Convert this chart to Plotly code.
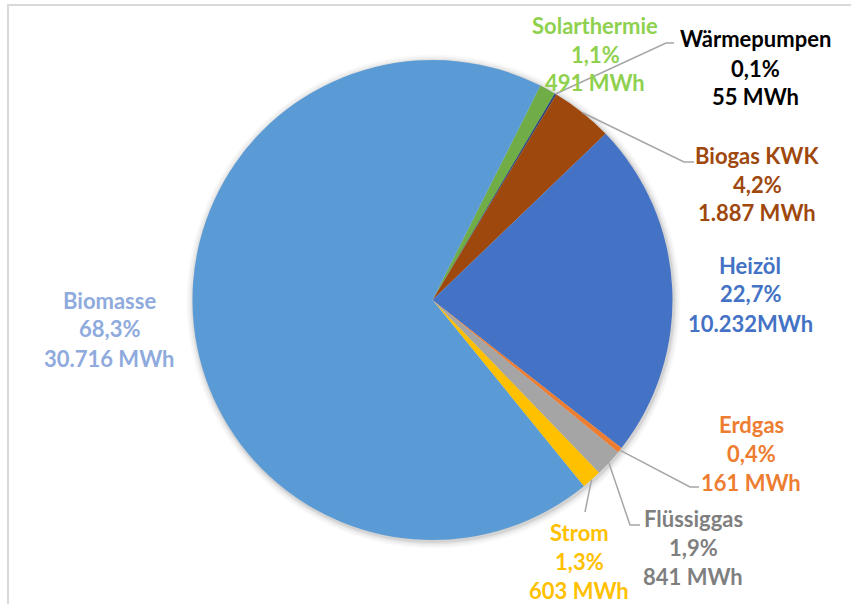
import math
import plotly.graph_objects as go

# Wärmeerzeugung nach Energieträger (MWh), im Uhrzeigersinn
categories = ["Solarthermie", "Wärmepumpen", "Biogas KWK", "Heizöl",
              "Erdgas", "Flüssiggas", "Strom", "Biomasse"]
values_mwh = [491, 55, 1887, 10232, 161, 841, 603, 30716]
slice_colors = ["#70AD47", "#264478", "#9E480E", "#4472C4",
                "#ED7D31", "#A5A5A5", "#FFC000", "#5B9BD5"]
label_colors = ["#8FD14F", "#000000", "#9E480E", "#4472C4",
                "#ED7D31", "#7F7F7F", "#FFC000", "#8FAADC"]
# Heizöl is written without a space before the unit
unit_gap = [" ", " ", " ", "", " ", " ", " ", " "]

W, H = 851, 604
CX, CY, R = 432.5, 300.0, 240.0          # pie centre / radius in px
ROTATION = 26.7                          # first slice starts here (deg, clockwise)

# label block centres (px, first line) and leader-line elbow points (px)
label_pos = [(595, 25), (755, 39), (757, 155), (750, 265),
             (751, 424), (693, 518), (579, 532), (110, 300)]
elbows = [None, [(666, 43), (674, 43)], [(684, 162), (694, 162)], None,
          [(690, 487), (699, 487)], [(630, 525), (640, 525)],
          [(585, 512)], None]
LINE_GAP = 29
FONT_SIZE = 22


def px(x):
    return x / W


def py(y):
    return 1 - y / H


def de_num(v):
    return f"{v:,}".replace(",", ".")


total = sum(values_mwh)

fig = go.Figure()

# soft halo around the pie
for grow, alpha in [(7, 0.025), (5, 0.035), (3, 0.05), (1.5, 0.07)]:
    r = R + grow
    fig.add_trace(go.Pie(
        values=[1], marker=dict(colors=[f"rgba(0,0,0,{alpha})"]),
        textinfo="none", hoverinfo="skip", showlegend=False, sort=False,
        domain=dict(x=[px(CX - r + 1), px(CX + r + 1)],
                    y=[py(CY + r + 1.5), py(CY - r + 1.5)]),
    ))

fig.add_trace(go.Pie(
    labels=categories, values=values_mwh, sort=False, direction="clockwise",
    rotation=ROTATION,
    marker=dict(colors=slice_colors, line=dict(width=0)),
    textinfo="none", hoverinfo="label+value+percent", showlegend=False,
    domain=dict(x=[px(CX - R), px(CX + R)], y=[py(CY + R), py(CY - R)]),
))

annotations = []
shapes = []
cum = 0.0
for i, (name, v) in enumerate(zip(categories, values_mwh)):
    frac = v / total
    mid = math.radians(ROTATION + (cum + frac / 2) * 360)
    cum += frac
    pct = f"{frac * 100:.1f}".replace(".", ",") + "%"
    lines = [name, pct, de_num(v) + unit_gap[i] + "MWh"]
    lx, ly = label_pos[i]
    for k, t in enumerate(lines):
        annotations.append(dict(
            x=px(lx), y=py(ly + k * LINE_GAP), xref="paper", yref="paper",
            text=t, showarrow=False, xanchor="center", yanchor="middle",
            font=dict(family="Lato", size=FONT_SIZE, weight="bold",
                      color=label_colors[i]),
        ))
    if elbows[i]:
        pts = [(CX + R * math.sin(mid), CY - R * math.cos(mid))] + elbows[i]
        path = "M " + " L ".join(f"{px(x)},{py(y)}" for x, y in pts)
        shapes.append(dict(type="path", path=path, xref="paper", yref="paper",
                           line=dict(color="#A6A6A6", width=1.5)))

# chart frame
shapes.append(dict(type="rect", xref="paper", yref="paper",
                   x0=px(8), x1=px(W + 20), y0=py(H + 20), y1=py(5),
                   line=dict(color="#D9D9D9", width=2), layer="below"))

fig.update_layout(
    width=W, height=H, margin=dict(l=0, r=0, t=0, b=0),
    paper_bgcolor="white", plot_bgcolor="white",
    annotations=annotations, shapes=shapes,
)

fig.write_html("out.html")
